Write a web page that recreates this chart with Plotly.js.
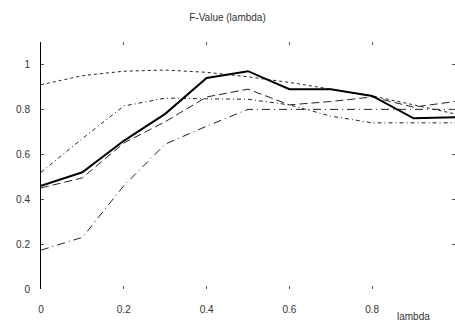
<!DOCTYPE html>
<html>
<head>
<meta charset="utf-8">
<script src="https://cdn.plot.ly/plotly-3.0.1.min.js"></script>
<style>html,body{margin:0;padding:0;background:#fff;}#chart{width:455px;height:323px;}</style>
</head>
<body>
<div id="chart"></div>
<script>
var lambda = [0, 0.1, 0.2, 0.3, 0.4, 0.5, 0.6, 0.7, 0.8, 0.9, 1.0];
var seriesSolid   = [0.46, 0.52, 0.66, 0.78, 0.94, 0.97, 0.89, 0.89, 0.86, 0.76, 0.765];
var seriesDotted  = [0.91, 0.95, 0.97, 0.975, 0.965, 0.945, 0.92, 0.89, 0.86, 0.82, 0.78];
var seriesDashDot = [0.52, 0.67, 0.815, 0.85, 0.847, 0.845, 0.82, 0.77, 0.74, 0.74, 0.74];
var seriesDash    = [0.45, 0.495, 0.65, 0.745, 0.855, 0.89, 0.82, 0.835, 0.855, 0.81, 0.835];
var seriesLongDD  = [0.173, 0.23, 0.46, 0.645, 0.725, 0.80, 0.80, 0.80, 0.80, 0.80, 0.80];
var xTicks = [0, 0.2, 0.4, 0.6, 0.8];
var xTickText = ['0', '0.2', '0.4', '0.6', '0.8'];
var yTicks = [0, 0.2, 0.4, 0.6, 0.8, 1];
var yTickText = ['0', '0.2', '0.4', '0.6', '0.8', '1'];

function tr(y, dash, w, c) {
  return {x: lambda, y: y, type: 'scatter', mode: 'lines',
          line: {color: c, width: w, dash: dash}, hoverinfo: 'skip'};
}
var data = [
  tr(seriesDotted, '3px,3px', 1, '#222'),
  tr(seriesDashDot, '4px,3px,1px,3px', 1, '#222'),
  tr(seriesLongDD, '8px,4px,1px,4px', 1, '#222'),
  tr(seriesDash, '8px,4px', 1, '#222'),
  tr(seriesSolid, 'solid', 2, '#000')
];
var font = {family: 'Liberation Sans, Arial, sans-serif', size: 10, color: '#333'};
var layout = {
  width: 455, height: 323,
  margin: {l: 41, r: 0, t: 42, b: 34, pad: 0},
  paper_bgcolor: '#fff', plot_bgcolor: '#fff',
  showlegend: false,
  font: font,
  title: {text: 'F-Value (lambda)', x: 0.5, xanchor: 'center', y: 0.947, yanchor: 'middle', font: font},
  xaxis: {range: [0, 1], tickvals: xTicks, ticktext: xTickText, showgrid: false, zeroline: false,
          showline: false, ticks: 'inside', ticklen: 3, tickwidth: 1, tickcolor: '#555', mirror: 'ticks',
          tickfont: font, ticklabelstandoff: 13, fixedrange: true},
  yaxis: {range: [0, 1.1], tickvals: yTicks, ticktext: yTickText, showgrid: false, zeroline: false,
          showline: true, linecolor: '#000', linewidth: 1, ticks: 'inside', ticklen: 3, tickwidth: 1,
          tickcolor: '#555', mirror: 'ticks', tickfont: font, ticklabelstandoff: 8, fixedrange: true},
  annotations: [{text: 'lambda', xref: 'x', yref: 'paper', x: 0.9, y: -0.11, xanchor: 'center', yanchor: 'middle',
                 showarrow: false, font: font}]
};
Plotly.newPlot('chart', data, layout, {displayModeBar: false, staticPlot: true});
</script>
</body>
</html>
